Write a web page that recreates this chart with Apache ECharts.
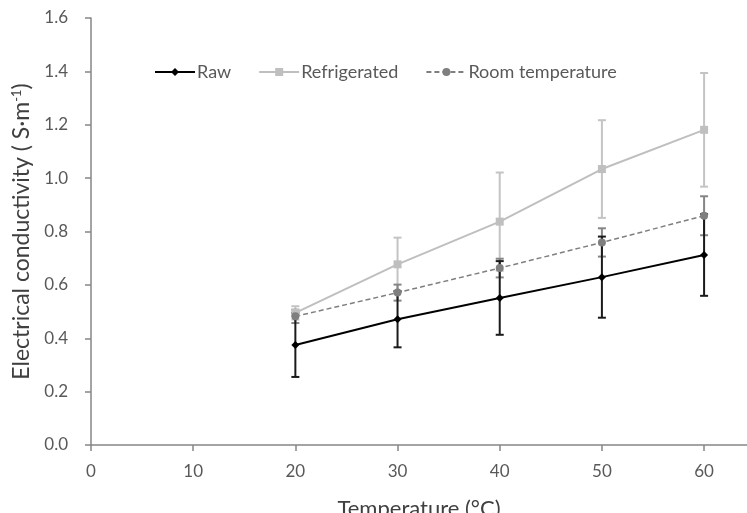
<!DOCTYPE html>
<html>
<head>
<meta charset="utf-8">
<script src="https://cdn.jsdelivr.net/npm/echarts@6/dist/echarts.min.js"></script>
<style>
html, body { margin: 0; padding: 0; background: #fff; }
#chart { width: 747px; height: 513px; }
</style>
</head>
<body>
<div id="chart"></div>
<script>
// temperature (°C) and mean conductivity with its error
var temps = [20, 30, 40, 50, 60];
var rawVals = [0.375, 0.471, 0.551, 0.629, 0.712];
var rawErr = [0.12, 0.105, 0.138, 0.152, 0.153];
var refrVals = [0.495, 0.677, 0.837, 1.034, 1.181];
var refrErr = [0.025, 0.1, 0.184, 0.183, 0.213];
var roomVals = [0.482, 0.571, 0.663, 0.759, 0.859];
var roomErr = [0.025, 0.03, 0.035, 0.053, 0.073];
var seriesNames = ['Raw', 'Refrigerated', 'Room temperature'];

var FONT = 'Lato, "Open Sans", sans-serif';

function pairs(vals) {
	var out = [];
	for (var i = 0; i < temps.length; i++) out.push([temps[i], vals[i]]);
	return out;
}
function bars(vals, errs) {
	var out = [];
	for (var i = 0; i < temps.length; i++) out.push([temps[i], vals[i] - errs[i], vals[i] + errs[i]]);
	return out;
}
function errorSeries(vals, errs, color) {
	return {
		type : 'custom',
		silent : true,
		z : 3,
		data : bars(vals, errs),
		renderItem : function(params, api) {
			var lo = api.coord([api.value(0), api.value(1)]);
			var hi = api.coord([api.value(0), api.value(2)]);
			var w = 4;
			var st = { stroke : color, lineWidth : 2 };
			return {
				type : 'group',
				children : [
					{ type : 'line', shape : { x1 : lo[0], y1 : lo[1], x2 : hi[0], y2 : hi[1] }, style : st },
					{ type : 'line', shape : { x1 : lo[0] - w, y1 : lo[1], x2 : lo[0] + w, y2 : lo[1] }, style : st },
					{ type : 'line', shape : { x1 : hi[0] - w, y1 : hi[1], x2 : hi[0] + w, y2 : hi[1] }, style : st }
				]
			};
		}
	};
}

var chart = echarts.init(document.getElementById('chart'));
chart.setOption({
	animation : false,
	textStyle : { fontFamily : FONT },
	grid : { left : 91, top : 18, right : 0, bottom : 68, containLabel : false, outerBoundsMode : 'none' },
	legend : {
		data : seriesNames,
		left : 149,
		top : 58,
		itemWidth : 40,
		itemHeight : 10,
		itemGap : 27,
		textStyle : { color : '#595959', fontSize : 18, fontFamily : FONT, padding : [0, 0, 0, -3] }
	},
	xAxis : {
		type : 'value',
		min : 0,
		max : 64.2,
		interval : 10,
		name : 'Temperature (°C)',
		nameLocation : 'middle',
		nameGap : 53,
		nameTextStyle : { color : '#404040', fontSize : 22, fontFamily : FONT },
		axisLine : { lineStyle : { color : '#868686', width : 1.5 } },
		axisTick : { show : true, length : 6, lineStyle : { color : '#868686', width : 1.5 } },
		axisLabel : { color : '#595959', fontSize : 17, margin : 18, showMaxLabel : false },
		splitLine : { show : false }
	},
	yAxis : {
		type : 'value',
		min : 0,
		max : 1.6,
		interval : 0.2,
		name : 'Electrical conductivity ( S·m{sup|-1})',
		nameLocation : 'middle',
		nameGap : 57,
		nameTextStyle : {
			color : '#404040', fontSize : 23, fontFamily : FONT,
			rich : { sup : { fontSize : 13, verticalAlign : 'top', color : '#404040', padding : [0, 0, 10, 0] } }
		},
		axisLine : { show : true, lineStyle : { color : '#868686', width : 1.5 } },
		axisTick : { show : true, length : 6, lineStyle : { color : '#868686', width : 1.5 } },
		axisLabel : {
			color : '#595959', fontSize : 17, margin : 23,
			formatter : function(v) { return v.toFixed(1); }
		},
		splitLine : { show : false }
	},
	series : [
		errorSeries(refrVals, refrErr, '#c4c4c4'),
		errorSeries(roomVals, roomErr, '#858585'),
		errorSeries(rawVals, rawErr, '#1a1a1a'),
		{
			name : 'Raw',
			type : 'line',
			z : 5,
			data : pairs(rawVals),
			symbol : 'diamond',
			symbolSize : 8,
			itemStyle : { color : '#000' },
			lineStyle : { color : '#000', width : 2 }
		},
		{
			name : 'Refrigerated',
			type : 'line',
			z : 4,
			data : pairs(refrVals),
			symbol : 'rect',
			symbolSize : 8,
			itemStyle : { color : '#bfbfbf' },
			lineStyle : { color : '#bfbfbf', width : 2 }
		},
		{
			name : 'Room temperature',
			type : 'line',
			z : 4,
			data : pairs(roomVals),
			symbol : 'circle',
			symbolSize : 8,
			itemStyle : { color : '#7f7f7f' },
			lineStyle : { color : '#7f7f7f', width : 1.5, type : [5, 3] }
		}
	]
});
</script>
</body>
</html>
